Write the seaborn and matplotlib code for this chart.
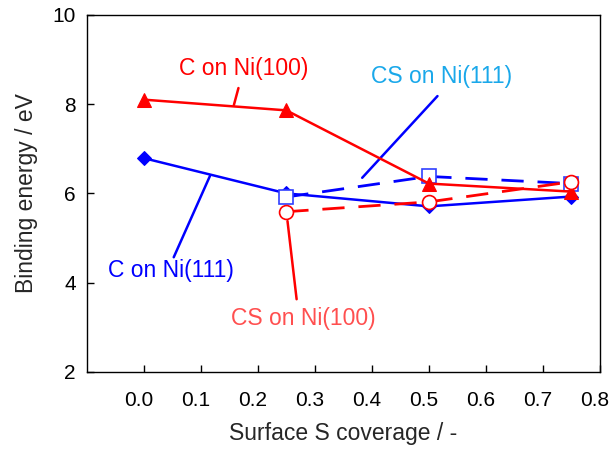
import numpy as np
import pandas as pd
import matplotlib
matplotlib.use("Agg")
import matplotlib.pyplot as plt
import matplotlib.transforms as mtransforms
import seaborn as sns

# ============================================================
# DATA
# ============================================================
COVERAGE      = [0.0, 0.25, 0.50, 0.75]
COVERAGE_CS   = [0.25, 0.50, 0.75]

C_NI100       = [8.10, 7.86, 6.22, 6.04]
C_NI111       = [6.79, 6.00, 5.71, 5.93]
CS_NI111      = [5.92, 6.38, 6.22]
CS_NI100      = [5.59, 5.81, 6.26]

XTICKS = [0.0, 0.1, 0.2, 0.3, 0.4, 0.5, 0.6, 0.7, 0.8]
YTICKS = [2, 4, 6, 8, 10]

RED   = "#ff0000"
BLUE  = "#0000ff"

# ============================================================
# PLOT
# ============================================================
sns.set_style("white")
plt.rcParams["font.family"] = ["Liberation Sans", "DejaVu Sans"]

fig = plt.figure(figsize=(6.11, 4.49), dpi=100)
ax = fig.add_axes([0.142, 0.1715, 0.840, 0.7955])

df_c100  = pd.DataFrame({"x": COVERAGE,    "y": C_NI100})
df_c111  = pd.DataFrame({"x": COVERAGE,    "y": C_NI111})
df_cs111 = pd.DataFrame({"x": COVERAGE_CS, "y": CS_NI111})
df_cs100 = pd.DataFrame({"x": COVERAGE_CS, "y": CS_NI100})


def open_dashed(line, marker, edge):
    # dashed line with open (white) markers
    line.set_dashes([8, 5])
    line.set_marker(marker)
    line.set_markersize(10)
    line.set_markerfacecolor("white")
    line.set_markeredgecolor(edge)
    line.set_markeredgewidth(1.2)


# C on Ni(111) - blue diamonds
sns.lineplot(data=df_c111, x="x", y="y", ax=ax, color=BLUE, lw=1.8,
             marker="D", markersize=7.5, markeredgecolor=BLUE, zorder=2)
# CS on Ni(111) - open squares, dashed
sns.lineplot(data=df_cs111, x="x", y="y", ax=ax, color=BLUE, lw=2.0, zorder=3)
open_dashed(ax.lines[-1], "s", "#3040ff")
# C on Ni(100) - red triangles
sns.lineplot(data=df_c100, x="x", y="y", ax=ax, color=RED, lw=1.8,
             marker="^", markersize=10.5, markeredgecolor=RED, zorder=4)
# CS on Ni(100) - open circles, dashed
sns.lineplot(data=df_cs100, x="x", y="y", ax=ax, color=RED, lw=2.0, zorder=5)
open_dashed(ax.lines[-1], "o", RED)

# --- labels with leader lines ---
FS = 16.5
ax.text(0.175, 8.80, "C on Ni(100)", color=RED, fontsize=FS, ha="center", va="center")
ax.plot([0.166, 0.158], [8.36, 7.98], color=RED, lw=1.8)

ax.text(0.523, 8.61, "CS on Ni(111)", color="#1aa8ea", fontsize=FS, ha="center", va="center")
ax.plot([0.515, 0.383], [8.18, 6.35], color=BLUE, lw=1.8)

ax.text(0.047, 4.28, "C on Ni(111)", color=BLUE, fontsize=FS, ha="center", va="center")
ax.plot([0.0525, 0.116], [4.57, 6.39], color=BLUE, lw=1.8)

ax.text(0.280, 3.20, "CS on Ni(100)", color="#ff4f4f", fontsize=FS, ha="center", va="center")
ax.plot([0.252, 0.268], [5.38, 3.63], color=RED, lw=1.8)

# --- axes ---
ax.set_xlim(-0.1, 0.8)
ax.set_ylim(2, 10)
ax.set_xticks(XTICKS)
ax.set_xticklabels([f"{v:.1f}" for v in XTICKS])
ax.set_yticks(YTICKS)
ax.tick_params(direction="in", length=5, width=1, colors="black",
               labelsize=15, left=True, bottom=True)
ax.tick_params(axis="x", pad=14)
ax.tick_params(axis="y", pad=8)
for s in ax.spines.values():
    s.set_color("black")
    s.set_linewidth(1)
ax.set_xlabel("Surface S coverage / -", fontsize=FS, labelpad=8)
ax.set_ylabel("Binding energy / eV", fontsize=FS, labelpad=10)

# x tick labels sit a little left of their ticks in the original
shift = mtransforms.ScaledTranslation(-5 / 100, 0, fig.dpi_scale_trans)
for lab in ax.get_xticklabels():
    lab.set_transform(lab.get_transform() + shift)

plt.savefig("out.png", dpi=100)
